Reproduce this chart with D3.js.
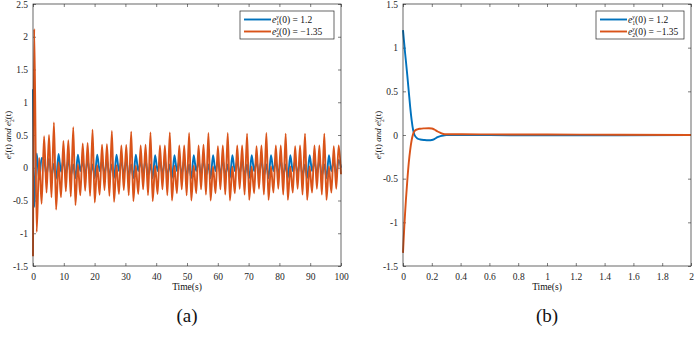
<!DOCTYPE html>
<html lang="en">
<head>
<meta charset="UTF-8">
<title>Synchronization errors</title>
<script src="https://d3js.org/d3.v7.min.js"></script>
<style>
  body { margin: 0; background: #fff; }
  svg { display: block; }
  .tick text { font-family: "Liberation Serif", "DejaVu Serif", serif; font-size: 9.5px; fill: #262626; }
  .tick line { stroke: #262626; stroke-width: 0.6; }
  .frame { fill: none; stroke: #262626; stroke-width: 0.7; }
  .serif { font-family: "Liberation Serif", "DejaVu Serif", serif; fill: #111; }
</style>
</head>
<body>
<svg id="chart" width="700" height="337"></svg>
<script>
// ---- panel (a): 0..100 s, extrema ----
const tA = [
  0, 0.4, 1.2, 2.0, 2.8,
  3.6, 4.4, 5.2, 6.0, 6.8, 7.5, 8.3, 9.1,
  9.87, 10.67, 11.47, 12.27, 13.07, 13.77, 14.57, 15.37,
  16.14, 16.94, 17.74, 18.54, 19.34, 20.04, 20.84, 21.64,
  22.41, 23.21, 24.01, 24.81, 25.61, 26.31, 27.11, 27.91,
  28.68, 29.48, 30.28, 31.08, 31.88, 32.58, 33.38, 34.18,
  34.95, 35.75, 36.55, 37.35, 38.15, 38.85, 39.65, 40.45,
  41.22, 42.02, 42.82, 43.62, 44.42, 45.12, 45.92, 46.72,
  47.49, 48.29, 49.09, 49.89, 50.69, 51.39, 52.19, 52.99,
  53.76, 54.56, 55.36, 56.16, 56.96, 57.66, 58.46, 59.26,
  60.03, 60.83, 61.63, 62.43, 63.23, 63.93, 64.73, 65.53,
  66.30, 67.10, 67.90, 68.70, 69.50, 70.20, 71.00, 71.80,
  72.57, 73.37, 74.17, 74.97, 75.77, 76.47, 77.27, 78.07,
  78.84, 79.64, 80.44, 81.24, 82.04, 82.74, 83.54, 84.34,
  85.11, 85.91, 86.71, 87.51, 88.31, 89.01, 89.81, 90.61,
  91.38, 92.18, 92.98, 93.78, 94.58, 95.28, 96.08, 96.88,
  97.65, 98.45, 99.25, 100
];
const e1A = [
  1.2, -0.6, 0.22, -0.18, 0.15,
  0.12, -0.12, 0.14, -0.13, 0.06, -0.17, 0.21, -0.06,
  0.11, -0.11, 0.13, -0.12, 0.05, -0.16, 0.20, -0.05,
  0.10, -0.10, 0.12, -0.12, 0.05, -0.16, 0.20, -0.05,
  0.10, -0.10, 0.12, -0.12, 0.05, -0.16, 0.20, -0.05,
  0.10, -0.10, 0.12, -0.12, 0.05, -0.16, 0.20, -0.05,
  0.10, -0.10, 0.12, -0.12, 0.05, -0.16, 0.19, -0.05,
  0.10, -0.10, 0.12, -0.12, 0.05, -0.16, 0.19, -0.05,
  0.10, -0.10, 0.12, -0.12, 0.05, -0.16, 0.19, -0.05,
  0.10, -0.10, 0.12, -0.12, 0.05, -0.16, 0.19, -0.05,
  0.10, -0.10, 0.12, -0.12, 0.05, -0.16, 0.19, -0.05,
  0.10, -0.10, 0.12, -0.12, 0.05, -0.16, 0.19, -0.05,
  0.10, -0.10, 0.12, -0.12, 0.05, -0.16, 0.19, -0.05,
  0.10, -0.10, 0.12, -0.12, 0.05, -0.16, 0.19, -0.05,
  0.10, -0.10, 0.12, -0.12, 0.05, -0.16, 0.19, -0.05,
  0.10, -0.10, 0.12, -0.12, 0.05, -0.16, 0.19, -0.05,
  0.10, -0.10, 0.12, 0.0
];
const e2A = [
  -1.35, 2.12, -0.98, 0.15, -0.55,
  0.48, -0.38, 0.50, -0.45, 0.69, -0.64, 0.08, -0.45,
  0.41, -0.36, 0.42, -0.44, 0.62, -0.57, 0.05, -0.42,
  0.37, -0.35, 0.38, -0.43, 0.58, -0.53, 0.04, -0.41,
  0.35, -0.34, 0.36, -0.43, 0.56, -0.52, 0.04, -0.40,
  0.34, -0.34, 0.35, -0.42, 0.55, -0.51, 0.03, -0.40,
  0.34, -0.33, 0.35, -0.42, 0.54, -0.51, 0.03, -0.40,
  0.34, -0.33, 0.34, -0.42, 0.54, -0.50, 0.03, -0.39,
  0.34, -0.33, 0.34, -0.42, 0.53, -0.50, 0.03, -0.39,
  0.34, -0.33, 0.35, -0.41, 0.53, -0.50, 0.02, -0.39,
  0.33, -0.33, 0.34, -0.41, 0.53, -0.50, 0.02, -0.39,
  0.34, -0.32, 0.34, -0.41, 0.52, -0.49, 0.02, -0.39,
  0.33, -0.32, 0.34, -0.41, 0.53, -0.49, 0.02, -0.38,
  0.34, -0.32, 0.34, -0.41, 0.52, -0.49, 0.02, -0.38,
  0.33, -0.32, 0.34, -0.41, 0.52, -0.49, 0.02, -0.38,
  0.34, -0.32, 0.34, -0.41, 0.52, -0.49, 0.02, -0.38,
  0.33, -0.32, 0.34, -0.10
];

// ---- panel (b): 0..2 s ----
const tB = [0, 0.005, 0.01, 0.015, 0.02, 0.03, 0.04, 0.05, 0.06, 0.07, 0.08, 0.1, 0.12,
            0.15, 0.18, 0.2, 0.22, 0.24, 0.26, 0.28, 0.3, 0.35, 0.4, 0.6, 1.0, 1.5, 2.0];
const e1B = [1.2, 1.11, 1.02, 0.93, 0.85, 0.68, 0.5, 0.32, 0.17, 0.06, 0.0, -0.04, -0.052,
             -0.058, -0.06, -0.058, -0.045, -0.025, -0.012, -0.005, -0.002, 0, 0, -0.002, -0.003, -0.002, 0];
const e2B = [-1.35, -1.18, -1.02, -0.88, -0.75, -0.52, -0.32, -0.17, -0.06, 0.01, 0.045, 0.065, 0.072,
             0.076, 0.078, 0.075, 0.06, 0.04, 0.025, 0.012, 0.008, 0.008, 0.008, 0.007, 0.005, 0.003, 0];

const xTicksA = d3.range(0, 101, 10);
const yTicksA = [-1.5, -1, -0.5, 0, 0.5, 1, 1.5, 2, 2.5];
const xTicksB = [0, 0.2, 0.4, 0.6, 0.8, 1, 1.2, 1.4, 1.6, 1.8, 2];
const yTicksB = [-1.5, -1, -0.5, 0, 0.5, 1, 1.5];
const legendVals = ["1.2", "\u22121.35"];
const colors = ["#0072BD", "#D95319"];

const svg = d3.select("#chart");
const fmt = d => String(+d.toFixed(2));

function mathE(g, sub, tail, fs) {
  // e with stacked superscript y and subscript
  const t = g.append("text").attr("class", "serif").style("font-size", fs + "px");
  t.append("tspan").attr("font-style", "italic").text("e");
  t.append("tspan").attr("font-style", "italic").attr("dy", -fs * 0.38)
    .style("font-size", (fs * 0.62) + "px").text("y");
  t.append("tspan").attr("dx", -fs * 0.28).attr("dy", fs * 0.66)
    .style("font-size", (fs * 0.62) + "px").text(sub);
  t.append("tspan").attr("dy", -fs * 0.28).text(tail);
  return t;
}

function panel(o) {
  const x = d3.scaleLinear().domain(o.xd).range([o.x0, o.x1]);
  const y = d3.scaleLinear().domain(o.yd).range([o.y1, o.y0]);
  const g = svg.append("g");

  g.append("g").attr("transform", `translate(0,${o.y1})`)
    .call(d3.axisBottom(x).tickValues(o.xt).tickFormat(fmt).tickSizeInner(-3).tickSizeOuter(0).tickPadding(7))
    .call(a => a.select(".domain").remove());
  g.append("g").attr("transform", `translate(0,${o.y0})`)
    .call(d3.axisTop(x).tickValues(o.xt).tickFormat("").tickSizeInner(-3).tickSizeOuter(0))
    .call(a => a.select(".domain").remove());
  g.append("g").attr("transform", `translate(${o.x0},0)`)
    .call(d3.axisLeft(y).tickValues(o.yt).tickFormat(fmt).tickSizeInner(-3).tickSizeOuter(0).tickPadding(5))
    .call(a => a.select(".domain").remove());
  g.append("g").attr("transform", `translate(${o.x1},0)`)
    .call(d3.axisRight(y).tickValues(o.yt).tickFormat("").tickSizeInner(-3).tickSizeOuter(0))
    .call(a => a.select(".domain").remove());
  g.selectAll(".tick text").attr("font-family", "Liberation Serif");

  const line = d3.line().x(d => x(d[0])).y(d => y(d[1])).curve(d3.curveMonotoneX);
  [o.e1, o.e2].forEach((vals, i) => {
    g.append("path")
      .datum(o.t.map((t, j) => [t, vals[j]]))
      .attr("d", line)
      .attr("fill", "none")
      .attr("stroke", colors[i])
      .attr("stroke-width", 1.9)
      .attr("stroke-linejoin", "round");
  });

  g.append("rect").attr("class", "frame")
    .attr("x", o.x0).attr("y", o.y0).attr("width", o.x1 - o.x0).attr("height", o.y1 - o.y0);

  // legend
  const lg = g.append("g").attr("transform", `translate(${o.lx},11)`);
  lg.append("rect").attr("width", o.lw).attr("height", 28)
    .attr("fill", "#fff").attr("stroke", "#262626").attr("stroke-width", 0.7);
  [0, 1].forEach(i => {
    const yy = 8.5 + i * 12;
    lg.append("line").attr("x1", 4).attr("x2", 31).attr("y1", yy).attr("y2", yy)
      .attr("stroke", colors[i]).attr("stroke-width", 1.9);
    mathE(lg, String(i + 1), "(0) = " + legendVals[i], 9.5)
      .attr("x", 32).attr("y", yy + 3);
  });

  // axis labels
  const cx = (o.x0 + o.x1) / 2;
  g.append("text").attr("class", "serif").attr("x", cx).attr("y", 290)
    .attr("text-anchor", "middle").style("font-size", "9.5px").text("Time(s)");
  const yl = g.append("g").attr("transform", `translate(${o.ylx},${(o.y0 + o.y1) / 2}) rotate(-90)`);
  const t = mathE(yl, "1", "(t)", 9).attr("text-anchor", "middle");
  t.append("tspan").attr("font-style", "italic").text(" and e");
  t.append("tspan").attr("font-style", "italic").attr("dy", -9 * 0.38)
    .style("font-size", (9 * 0.62) + "px").text("y");
  t.append("tspan").attr("dx", -9 * 0.28).attr("dy", 9 * 0.66)
    .style("font-size", (9 * 0.62) + "px").text("2");
  t.append("tspan").attr("dy", -9 * 0.28).text("(t)");
  t.attr("x", 0).attr("y", 3);

  g.append("text").attr("class", "serif").attr("x", cx).attr("y", 322)
    .attr("text-anchor", "middle").style("font-size", "19px").text(o.tag);
}

panel({ x0: 33, x1: 341, y0: 4, y1: 266, xd: [0, 100], yd: [-1.5, 2.5], xt: xTicksA, yt: yTicksA,
        t: tA, e1: e1A, e2: e2A, lx: 240, lw: 94, ylx: 8, tag: "(a)" });
panel({ x0: 403, x1: 691, y0: 4, y1: 266, xd: [0, 2], yd: [-1.5, 1.5], xt: xTicksB, yt: yTicksB,
        t: tB, e1: e1B, e2: e2B, lx: 596, lw: 88, ylx: 378, tag: "(b)" });
</script>
</body>
</html>
